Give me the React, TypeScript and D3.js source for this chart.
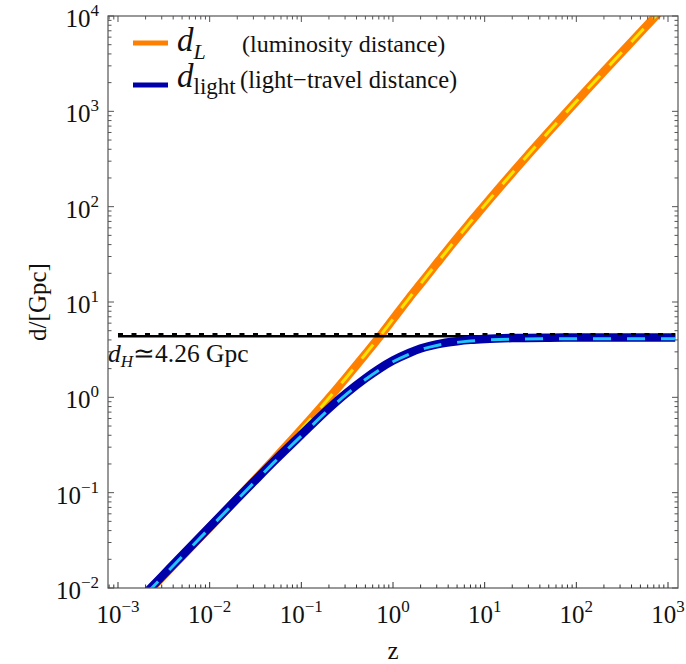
import React, { useEffect, useRef } from "react";
import * as d3 from "d3";

// redshift grid and distances (Gpc)
const redshift = [0.002, 0.003, 0.005, 0.01, 0.02, 0.03, 0.05, 0.1, 0.2, 0.3, 0.5, 0.7, 1, 1.5, 2, 3, 5, 7, 10, 20, 50, 100, 200, 500, 750, 1000, 1200];
const lumDist = [0.00858, 0.01287, 0.0215, 0.04316, 0.087, 0.1315, 0.2223, 0.4603, 0.982, 1.56, 2.832, 4.233, 6.606, 11.0, 15.54, 25.38, 46.72, 69.0, 103.8, 225.6, 610.2, 1273, 2623, 6742, 10202, 13670, 16460];
const lightDist = [0.00879, 0.01317, 0.02192, 0.04368, 0.08672, 0.1291, 0.2123, 0.4052, 0.766, 1.0767, 1.581, 1.978, 2.43, 2.919, 3.25, 3.597, 3.877, 4.005, 4.092, 4.186, 4.228, 4.237, 4.24, 4.242, 4.242, 4.242, 4.242];
const lightDistDashed = [0.00855, 0.01281, 0.02132, 0.04249, 0.08436, 0.1256, 0.2065, 0.3942, 0.7451, 1.0473, 1.5378, 1.9243, 2.3638, 2.8389, 3.1616, 3.4989, 3.7715, 3.8961, 3.9804, 4.072, 4.1122, 4.1212, 4.1246, 4.1259, 4.1262, 4.1263, 4.1263];

const hubbleSolid = 4.38;
const hubbleDashed = 4.6;
const hubbleSpan = [1e-3, 1200];

const xTickExps = [-3, -2, -1, 0, 1, 2, 3];
const yTickExps = [-2, -1, 0, 1, 2, 3, 4];

const W = 686;
const H = 664;
const PL = 108;
const PR = 678;
const PT = 16;
const PB = 588;
const SERIF = "Liberation Serif, Times New Roman, serif";

const App = () => {
    const svgRef = useRef<SVGSVGElement>(null);

    useEffect(() => {
        if (!svgRef.current) return;
        const svg = d3.select(svgRef.current);
        svg.selectAll("*").remove();

        const x = d3.scaleLog().domain([Math.pow(10, -3.109), Math.pow(10, 3.109)]).range([PL, PR]);
        const y = d3.scaleLog().domain([1e-2, 1e4]).range([PB, PT]);

        svg.append("rect").attr("width", W).attr("height", H).attr("fill", "#fff");

        svg.append("defs").append("clipPath").attr("id", "plotArea")
            .append("rect").attr("x", PL).attr("y", PT).attr("width", PR - PL).attr("height", PB - PT);

        const plot = svg.append("g").attr("clip-path", "url(#plotArea)");

        const line = (vals: number[]) => d3.line<number>()
            .x((_, i) => x(redshift[i]))
            .y(d => y(d))
            .curve(d3.curveMonotoneX)(vals);

        // ── luminosity distance ───────────────────────────────
        plot.append("path").attr("d", line(lumDist))
            .attr("fill", "none").attr("stroke", "#FF8000").attr("stroke-width", 8.5);
        plot.append("path").attr("d", line(lumDist))
            .attr("fill", "none").attr("stroke", "#F5E400").attr("stroke-width", 3)
            .attr("stroke-dasharray", "18,14");

        // ── horizon line (solid part) ─────────────────────────
        plot.append("line")
            .attr("x1", x(hubbleSpan[0])).attr("x2", x(hubbleSpan[1]))
            .attr("y1", y(hubbleSolid)).attr("y2", y(hubbleSolid))
            .attr("stroke", "#000").attr("stroke-width", 2.6);

        // ── light-travel distance ─────────────────────────────
        plot.append("path").attr("d", line(lightDist))
            .attr("fill", "none").attr("stroke", "#0000AA").attr("stroke-width", 8.5);
        plot.append("path").attr("d", line(lightDistDashed))
            .attr("fill", "none").attr("stroke", "#22C3F5").attr("stroke-width", 3)
            .attr("stroke-dasharray", "18,16");

        // ── horizon line (dashed part, on top) ────────────────
        plot.append("line")
            .attr("x1", x(hubbleSpan[0])).attr("x2", x(hubbleSpan[1]))
            .attr("y1", y(hubbleDashed)).attr("y2", y(hubbleDashed))
            .attr("stroke", "#000").attr("stroke-width", 2.2)
            .attr("stroke-dasharray", "5,8.5");

        // ── frame + ticks ─────────────────────────────────────
        const frame = svg.append("g");
        frame.append("rect")
            .attr("x", PL).attr("y", PT).attr("width", PR - PL).attr("height", PB - PT)
            .attr("fill", "none").attr("stroke", "#555").attr("stroke-width", 1.2);

        const logTicks = (lo: number, hi: number) => {
            const out: { v: number; major: boolean }[] = [];
            for (let e = -4; e <= 4; e++) {
                for (let m = 1; m <= 9; m++) {
                    const v = m * Math.pow(10, e);
                    if (v >= lo && v <= hi) out.push({ v, major: m === 1 });
                }
            }
            return out;
        };

        const [xlo, xhi] = x.domain();
        logTicks(xlo, xhi).forEach(t => {
            const len = t.major ? 6 : 3.5;
            const px = x(t.v);
            frame.append("line").attr("x1", px).attr("x2", px).attr("y1", PB).attr("y2", PB - len)
                .attr("stroke", "#333").attr("stroke-width", 1);
            frame.append("line").attr("x1", px).attr("x2", px).attr("y1", PT).attr("y2", PT + len)
                .attr("stroke", "#555").attr("stroke-width", 1);
        });

        const [ylo, yhi] = y.domain();
        logTicks(ylo, yhi).forEach(t => {
            const len = t.major ? 6 : 3.5;
            const py = y(t.v);
            frame.append("line").attr("x1", PL).attr("x2", PL + len).attr("y1", py).attr("y2", py)
                .attr("stroke", "#555").attr("stroke-width", 1);
            frame.append("line").attr("x1", PR).attr("x2", PR - len).attr("y1", py).attr("y2", py)
                .attr("stroke", "#555").attr("stroke-width", 1);
        });

        const expText = (e: number) => (e < 0 ? "\u2212" + Math.abs(e) : String(e));

        xTickExps.forEach(e => {
            const t = svg.append("text")
                .attr("x", x(Math.pow(10, e))).attr("y", 623)
                .attr("text-anchor", "middle")
                .attr("font-family", SERIF).attr("fill", "#111");
            t.append("tspan").attr("font-size", 25).text("10");
            t.append("tspan").attr("font-size", 17).attr("dy", -11).text(expText(e));
        });

        yTickExps.forEach(e => {
            const t = svg.append("text")
                .attr("x", 99).attr("y", y(Math.pow(10, e)) + 11)
                .attr("text-anchor", "end")
                .attr("font-family", SERIF).attr("fill", "#111");
            t.append("tspan").attr("font-size", 25).text("10");
            t.append("tspan").attr("font-size", 17).attr("dy", -11).text(expText(e));
        });

        // axis titles
        svg.append("text")
            .attr("x", (PL + PR) / 2).attr("y", 659)
            .attr("text-anchor", "middle")
            .attr("font-family", SERIF).attr("font-size", 25).attr("fill", "#111")
            .text("z");
        svg.append("text")
            .attr("transform", `translate(46,${(PT + PB) / 2}) rotate(-90)`)
            .attr("text-anchor", "middle")
            .attr("font-family", SERIF).attr("font-size", 25).attr("fill", "#111")
            .text("d/[Gpc]");

        // d_H annotation
        const dh = svg.append("text")
            .attr("x", 108).attr("y", 362)
            .attr("font-family", SERIF).attr("font-size", 25.5).attr("fill", "#111");
        dh.append("tspan").attr("font-style", "italic").text("d");
        dh.append("tspan").attr("font-style", "italic").attr("font-size", 17).attr("dy", 5).text("H");
        dh.append("tspan").attr("dy", -5).text("\u22434.26 Gpc");

        // ── legend ────────────────────────────────────────────
        const legend = svg.append("g");
        legend.append("line").attr("x1", 133).attr("x2", 168).attr("y1", 43).attr("y2", 43)
            .attr("stroke", "#FF8000").attr("stroke-width", 5);
        legend.append("line").attr("x1", 133).attr("x2", 168).attr("y1", 85).attr("y2", 85)
            .attr("stroke", "#0000AA").attr("stroke-width", 5);

        const l1 = legend.append("text").attr("x", 177).attr("y", 51)
            .attr("font-family", SERIF).attr("fill", "#111");
        l1.append("tspan").attr("font-size", 33).attr("font-style", "italic").text("d");
        l1.append("tspan").attr("font-size", 22).attr("font-style", "italic").attr("dy", 8).text("L");
        legend.append("text").attr("x", 242).attr("y", 52)
            .attr("font-family", SERIF).attr("font-size", 24).attr("fill", "#111")
            .text("(luminosity distance)");

        const l2 = legend.append("text").attr("x", 177).attr("y", 87)
            .attr("font-family", SERIF).attr("fill", "#111");
        l2.append("tspan").attr("font-size", 33).attr("font-style", "italic").text("d");
        l2.append("tspan").attr("font-size", 23).attr("dy", 7).text("light");
        legend.append("text").attr("x", 240).attr("y", 88)
            .attr("font-family", SERIF).attr("font-size", 24.5).attr("fill", "#111")
            .text("(light\u2212travel distance)");
    }, []);

    return (
        <svg
            ref={svgRef}
            width={W}
            height={H}
            style={{ position: "absolute", left: 0, top: 0, display: "block" }}
        />
    );
};

export default App;
